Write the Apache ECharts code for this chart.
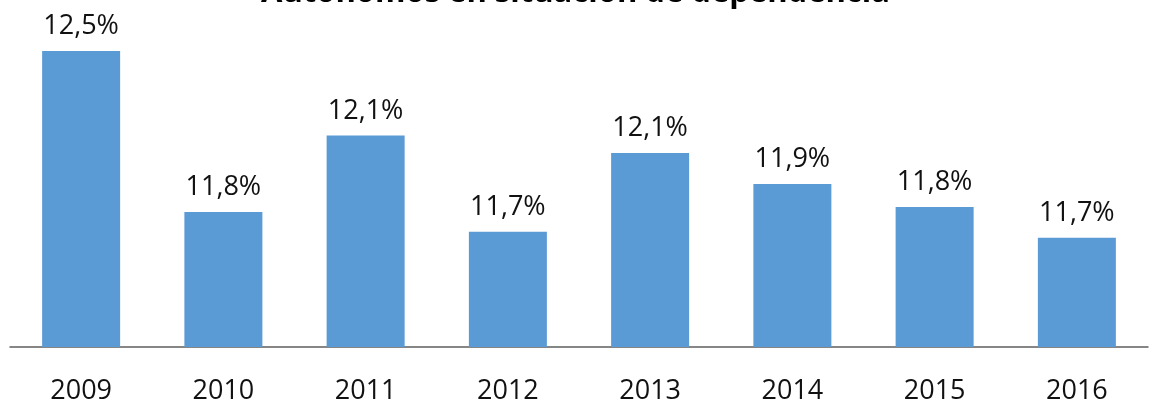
<!DOCTYPE html>
<html>
<head>
<meta charset="utf-8">
<script src="https://cdn.jsdelivr.net/npm/echarts@6/dist/echarts.min.js"></script>
<style>html,body{margin:0;padding:0;background:#fff}#c{width:1151px;height:405px}</style>
</head>
<body>
<div id="c"></div>
<script>
const titleText = 'Autónomos en situación de dependencia';
const years = ['2009', '2010', '2011', '2012', '2013', '2014', '2015', '2016'];
const values = [12.5, 11.793, 12.129, 11.706, 12.052, 11.916, 11.815, 11.68];

const FONT = '"Open Sans", sans-serif';
const chart = echarts.init(document.getElementById('c'), null, {renderer: 'canvas'});
chart.setOption({
  animation: false,
  backgroundColor: '#ffffff',
  title: {
    text: titleText,
    left: 'center',
    top: -27,
    textStyle: {fontFamily: FONT, fontWeight: 'bold', fontSize: 31, color: '#000'}
  },
  grid: {left: 10, right: 3, top: 51, bottom: 56, containLabel: false},
  xAxis: {
    type: 'category',
    data: years,
    axisLine: {lineStyle: {color: '#5f5f5f', width: 1.5}},
    axisTick: {show: false},
    axisLabel: {fontFamily: FONT, fontSize: 27, color: '#111', margin: 31}
  },
  yAxis: {
    type: 'value',
    min: 11.2,
    max: 12.5,
    show: false,
    splitLine: {show: false}
  },
  series: [{
    type: 'bar',
    data: values,
    barWidth: 78,
    itemStyle: {color: '#5b9bd5'},
    label: {
      show: true,
      position: 'top',
      distance: 11,
      fontFamily: FONT,
      fontSize: 27,
      color: '#111',
      formatter: p => (Math.round(p.value * 10) / 10).toFixed(1).replace('.', ',') + '%'
    }
  }]
});
</script>
</body>
</html>
